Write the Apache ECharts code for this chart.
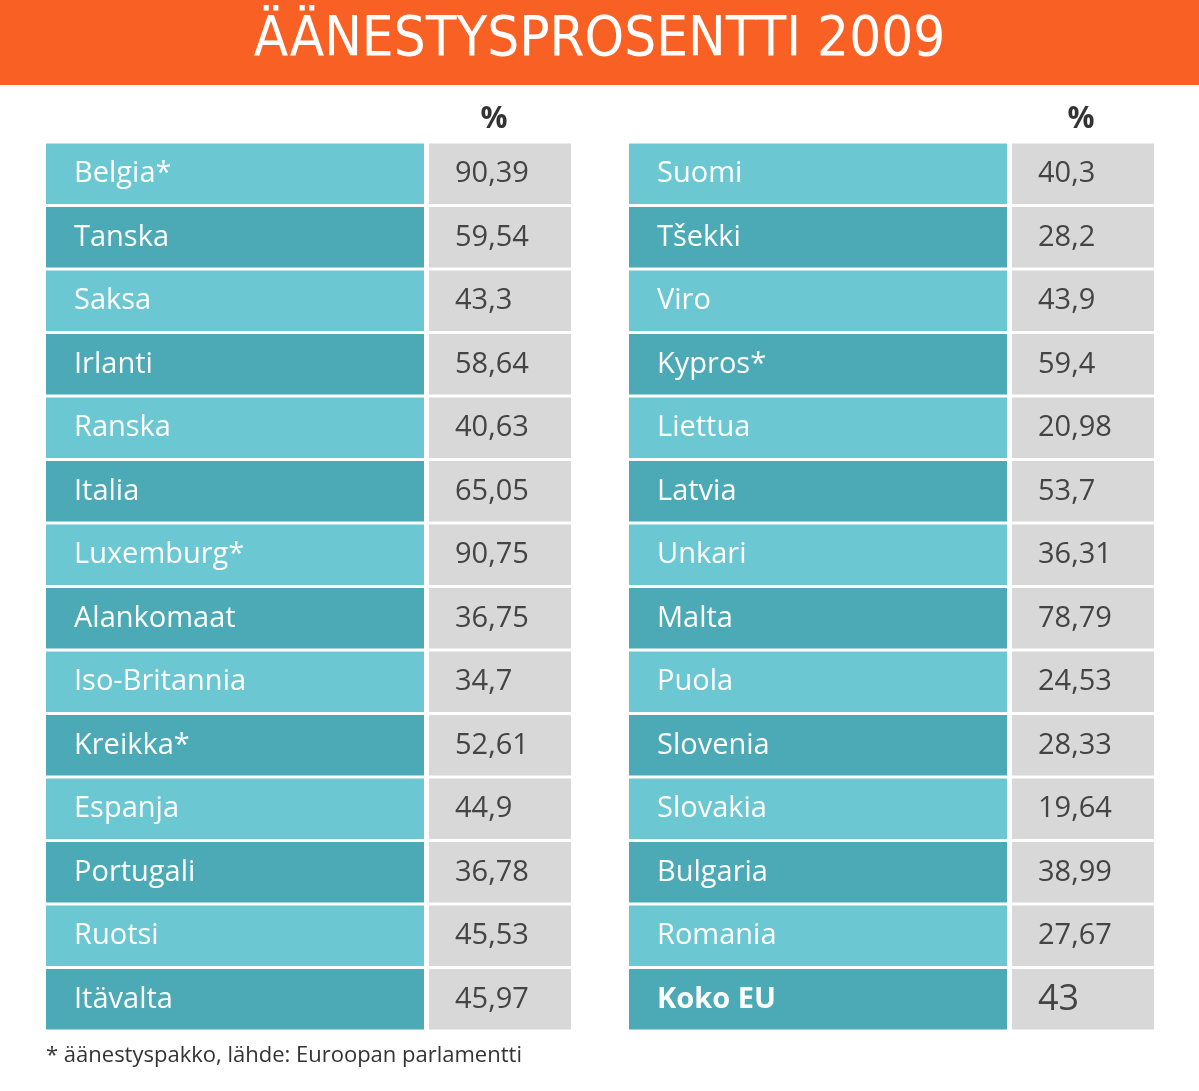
<!DOCTYPE html>
<html><head><meta charset="utf-8">
<script src="https://cdn.jsdelivr.net/npm/echarts@6/dist/echarts.min.js"></script>
<style>html,body{margin:0;padding:0;background:#fff}#c{width:1199px;height:1091px}</style>
</head><body><div id="c"></div>
<script>
const leftCountries = ["Belgia*","Tanska","Saksa","Irlanti","Ranska","Italia","Luxemburg*","Alankomaat","Iso-Britannia","Kreikka*","Espanja","Portugali","Ruotsi","Itävalta"];
const leftValues = ["90,39","59,54","43,3","58,64","40,63","65,05","90,75","36,75","34,7","52,61","44,9","36,78","45,53","45,97"];
const rightCountries = ["Suomi","Tšekki","Viro","Kypros*","Liettua","Latvia","Unkari","Malta","Puola","Slovenia","Slovakia","Bulgaria","Romania","Koko EU"];
const rightValues = ["40,3","28,2","43,9","59,4","20,98","53,7","36,31","78,79","24,53","28,33","19,64","38,99","27,67","43"];
const title = "ÄÄNESTYSPROSENTTI 2009";
const footnote = "* äänestyspakko, lähde: Euroopan parlamentti";

const FONT = "'Open Sans','Noto Sans',sans-serif";
function mkRender(names, vals){
  return function(params, api){
    const i = api.value(0);
    const cs = params.coordSys;
    const y0 = api.coord([0,i])[1];
    const h = api.size([0,1])[1];
    const top = y0 - h/2 + 1.5, hh = h - 3;
    const nameW = cs.width*0.72;
    const gap = 5;
    const dark = i%2===1;
    const isTotal = names[i]==="Koko EU";
    return {type:'group',children:[
      {type:'rect',shape:{x:cs.x,y:top,width:nameW,height:hh},style:{fill:dark?'#4BAAB5':'#6BC8D2'}},
      {type:'rect',shape:{x:cs.x+nameW+gap,y:top,width:cs.width-nameW-gap,height:hh},style:{fill:'#D9D8D9'}},
      {type:'text',x:cs.x+28,y:y0,style:{text:names[i],fill:'#fff',font:(isTotal?'bold ':'')+'29px '+FONT,verticalAlign:'middle'}},
      {type:'text',x:cs.x+nameW+gap+26,y:y0,style:{text:vals[i],fill:'#444',font:(isTotal?'36px ':'29px ')+FONT,verticalAlign:'middle'}}
    ]};
  };
}
const idx = leftCountries.map((_,i)=>[i]);
const chart = echarts.init(document.getElementById('c'));
chart.setOption({
  animation:false,
  grid:[{left:46,top:142,width:525,height:889},{left:629,top:142,width:525,height:889}],
  xAxis:[{gridIndex:0,type:'value',show:false},{gridIndex:1,type:'value',show:false}],
  yAxis:[{gridIndex:0,type:'category',data:leftCountries,inverse:true,show:false},
         {gridIndex:1,type:'category',data:rightCountries,inverse:true,show:false}],
  graphic:[
    {type:'rect',left:0,top:0,shape:{width:1199,height:85},style:{fill:'#F96124'}},
    {type:'text',left:'center',top:12,style:{text:title,fill:'#fff',font:"56px 'Liberation Sans Narrow','DejaVu Sans Condensed',sans-serif"}},
    {type:'text',x:494,y:119,style:{text:'%',fill:'#333',font:'bold 30px '+FONT,align:'center',verticalAlign:'middle'}},
    {type:'text',x:1081,y:119,style:{text:'%',fill:'#333',font:'bold 30px '+FONT,align:'center',verticalAlign:'middle'}},
    {type:'text',x:46,y:1056,style:{text:footnote,fill:'#333',font:'22px '+FONT,verticalAlign:'middle'}}
  ],
  series:[
    {type:'custom',xAxisIndex:0,yAxisIndex:0,data:idx,renderItem:mkRender(leftCountries,leftValues)},
    {type:'custom',xAxisIndex:1,yAxisIndex:1,data:idx,renderItem:mkRender(rightCountries,rightValues)}
  ]
});
</script></body></html>
